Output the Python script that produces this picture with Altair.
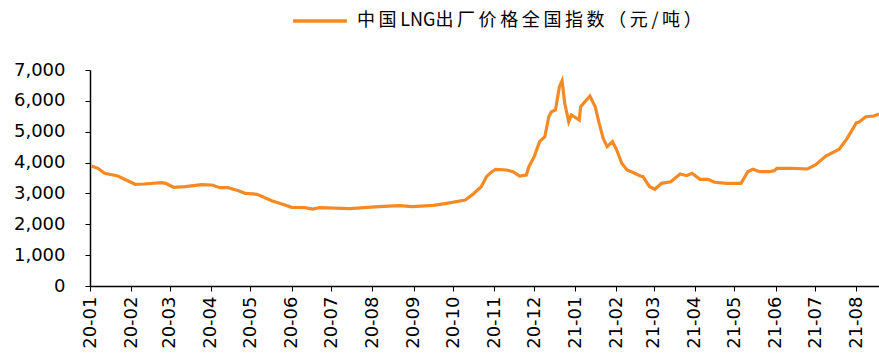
import altair as alt
import pandas as pd

# China LNG ex-factory price index, nationwide (yuan/ton)
dates = [
    "2020-01-02", "2020-01-07", "2020-01-12", "2020-01-22", "2020-02-04", "2020-02-11",
    "2020-02-24", "2020-02-27", "2020-03-04", "2020-03-13", "2020-03-25", "2020-04-02",
    "2020-04-08", "2020-04-14", "2020-04-22", "2020-04-27", "2020-05-06", "2020-05-17",
    "2020-05-27", "2020-06-01", "2020-06-11", "2020-06-17", "2020-06-22", "2020-07-15",
    "2020-08-06", "2020-08-21", "2020-08-31", "2020-09-16", "2020-09-26", "2020-10-10",
    "2020-10-16", "2020-10-22", "2020-10-26", "2020-10-30", "2020-11-02", "2020-11-10",
    "2020-11-15", "2020-11-20", "2020-11-25", "2020-11-27", "2020-12-01", "2020-12-05",
    "2020-12-09", "2020-12-12", "2020-12-14", "2020-12-17", "2020-12-20", "2020-12-22",
    "2020-12-24", "2020-12-27", "2020-12-29", "2021-01-04", "2021-01-05", "2021-01-12",
    "2021-01-16", "2021-01-19", "2021-01-22", "2021-01-25", "2021-01-29", "2021-02-01",
    "2021-02-05", "2021-02-09", "2021-02-14", "2021-02-19", "2021-02-21", "2021-02-26",
    "2021-03-02", "2021-03-07", "2021-03-14", "2021-03-21", "2021-03-26", "2021-03-30",
    "2021-04-05", "2021-04-11", "2021-04-16", "2021-04-25", "2021-05-06", "2021-05-11",
    "2021-05-15", "2021-05-20", "2021-05-27", "2021-05-31", "2021-06-02", "2021-06-14",
    "2021-06-25", "2021-07-01", "2021-07-09", "2021-07-19", "2021-07-25", "2021-08-01",
    "2021-08-03", "2021-08-08", "2021-08-14", "2021-08-18",
]
prices = [
    3889, 3814, 3652, 3565, 3296, 3306,
    3348, 3328, 3199, 3218, 3283, 3273,
    3186, 3186, 3088, 3004, 2972, 2764,
    2625, 2550, 2537, 2495, 2537, 2505,
    2570, 2602, 2570, 2615, 2680, 2787,
    2981, 3218, 3542, 3704, 3781, 3759,
    3704, 3565, 3597, 3867, 4190, 4677,
    4839, 5487, 5649, 5704, 6459, 6654,
    5921, 5325, 5542, 5380, 5811, 6157,
    5811, 5273, 4786, 4515, 4677, 4430,
    3976, 3759, 3672, 3565, 3542, 3218,
    3134, 3328, 3380, 3630, 3575, 3652,
    3458, 3458, 3361, 3328, 3328, 3704,
    3781, 3704, 3704, 3737, 3814, 3814,
    3792, 3921, 4213, 4430, 4786, 5293,
    5315, 5487, 5510, 5574,
]
series_name = "中国LNG出厂价格全国指数（元/吨）"
month_ticks = pd.date_range("2020-01-01", "2021-08-01", freq="MS")

df = pd.DataFrame({"date": pd.to_datetime(dates), "price": prices, "series": series_name})

axis_font = "DejaVu Sans"

chart = (
    alt.Chart(df)
    .mark_line(strokeWidth=3.2, interpolate="linear")
    .encode(
        x=alt.X(
            "date:T",
            scale=alt.Scale(domain=["2020-01-01", "2021-08-18"], nice=False),
            axis=alt.Axis(
                values=[d.strftime("%Y-%m-%d") for d in month_ticks],
                format="%y-%m",
                labelAngle=-90,
                labelAlign="right",
                labelBaseline="middle",
                labelFontSize=18,
                labelFont=axis_font,
                labelColor="#000000",
                labelPadding=5,
                tickSize=5,
                tickColor="#000000",
                domainColor="#000000",
                domainWidth=1.5,
                grid=False,
                title=None,
            ),
        ),
        y=alt.Y(
            "price:Q",
            scale=alt.Scale(domain=[0, 7000], nice=False),
            axis=alt.Axis(
                values=list(range(0, 7001, 1000)),
                format=",d",
                labelFontSize=18,
                labelFont=axis_font,
                labelColor="#000000",
                labelPadding=20,
                tickSize=5,
                tickColor="#000000",
                domainColor="#000000",
                domainWidth=1.5,
                grid=False,
                title=None,
            ),
        ),
        color=alt.Color(
            "series:N",
            scale=alt.Scale(range=["#F58A25"]),
            legend=alt.Legend(
                title=None,
                orient="none",
                legendX=201,
                legendY=-78,
                symbolType="stroke",
                symbolSize=2900,
                symbolStrokeWidth=3.5,
                labelFont="Noto Sans CJK SC",
                labelFontSize=18,
                labelColor="#000000",
                labelOffset=8,
                labelLimit=700,
                # thin spaces after each non-Latin character, keeping "LNG" tight
                labelExpr="replace(datum.label, /([^A-Za-z])/g, '$1\u2009')",
            ),
        ),
    )
    .properties(
        width=789,
        height=216,
        padding={"left": 90, "top": 70, "right": 0, "bottom": 67},
        autosize=alt.AutoSizeParams(type="none"),
    )
    .configure_view(stroke=None)
)

chart.save("out.html", embed_options={"renderer": "svg", "actions": False})
